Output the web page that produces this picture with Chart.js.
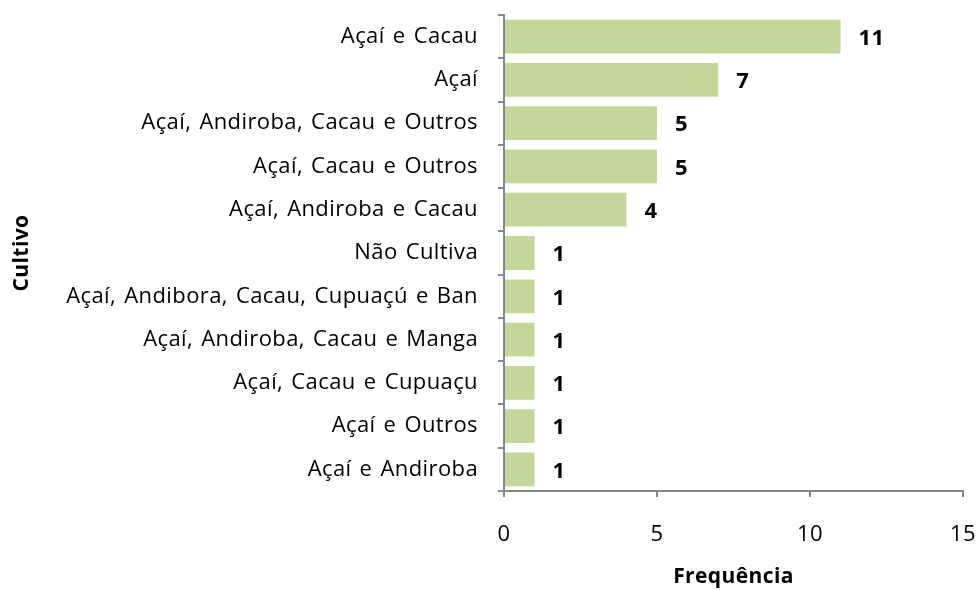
<!DOCTYPE html>
<html>
<head>
<meta charset="utf-8">
<script src="https://cdn.jsdelivr.net/npm/chart.js@4"></script>
<style>
  html, body { margin: 0; padding: 0; background: #fff; }
  #wrap { width: 978px; height: 590px; }
</style>
</head>
<body>
<div id="wrap"><canvas id="chart" width="978" height="590"></canvas></div>
<script>
"use strict";

const cultivos = [
  "Açaí e Cacau",
  "Açaí",
  "Açaí, Andiroba, Cacau e Outros",
  "Açaí, Cacau e Outros",
  "Açaí, Andiroba e Cacau",
  "Não Cultiva",
  "Açaí, Andibora, Cacau, Cupuaçú e Ban",
  "Açaí, Andiroba, Cacau e Manga",
  "Açaí, Cacau e Cupuaçu",
  "Açaí e Outros",
  "Açaí e Andiroba",
];
const frequencias = [11, 7, 5, 5, 4, 1, 1, 1, 1, 1, 1];
const xTicks = [0, 5, 10, 15];

const fontFamily = "'Open Sans', Lato, sans-serif";
const axisGray = "#868686";

// slightly looser text, like the original
const textSpacing = {
  id: "textSpacing",
  beforeLayout(chart) {
    chart.ctx.wordSpacing = "2px";
    chart.ctx.letterSpacing = "0.4px";
  },
  beforeDraw(chart) {
    chart.ctx.wordSpacing = "2px";
    chart.ctx.letterSpacing = "0.4px";
  },
};

// bold value next to each bar
const valueLabels = {
  id: "valueLabels",
  afterDatasetsDraw(chart) {
    const ctx = chart.ctx;
    const meta = chart.getDatasetMeta(0);
    ctx.save();
    ctx.font = "bold 22px " + fontFamily;
    ctx.fillStyle = "#000";
    ctx.textAlign = "left";
    ctx.textBaseline = "middle";
    meta.data.forEach((bar, i) => {
      ctx.fillText(String(frequencias[i]), bar.x + 18, bar.y + 2);
    });
    ctx.restore();
  },
};

new Chart(document.getElementById("chart"), {
  type: "bar",
  data: {
    labels: cultivos,
    datasets: [
      {
        data: frequencias,
        backgroundColor: "#c4d79b",
        borderWidth: 0,
        barPercentage: 0.78,
        categoryPercentage: 1,
      },
    ],
  },
  options: {
    indexAxis: "y",
    responsive: false,
    animation: false,
    layout: { padding: { top: 15, right: 15, bottom: 0, left: 0 } },
    plugins: {
      legend: { display: false },
      tooltip: { enabled: false },
    },
    scales: {
      x: {
        min: 0,
        max: 15,
        afterBuildTicks(scale) {
          scale.ticks = xTicks.map((v) => ({ value: v }));
        },
        afterFit(scale) {
          scale.height = 99;
          scale.paddingLeft = 0;
          scale.paddingRight = 0;
        },
        border: { color: axisGray, width: 2 },
        grid: {
          drawOnChartArea: false,
          color: axisGray,
          lineWidth: 2,
          tickLength: 6,
        },
        ticks: {
          color: "#000",
          padding: 25,
          font: { family: fontFamily, size: 22 },
        },
        title: {
          display: true,
          text: "Frequência",
          color: "#000",
          font: { family: fontFamily, size: 21, weight: "bold" },
          padding: { top: 0, bottom: 0 },
        },
      },
      y: {
        afterFit(scale) {
          scale.width = 504;
          scale.paddingTop = 0;
          scale.paddingBottom = 0;
        },
        border: { color: axisGray, width: 2 },
        grid: {
          drawOnChartArea: false,
          color: axisGray,
          lineWidth: 2,
          tickLength: 6,
        },
        ticks: {
          color: "#000",
          padding: 20,
          autoSkip: false,
          font: { family: fontFamily, size: 22 },
        },
        title: {
          display: true,
          text: "Cultivo",
          color: "#000",
          font: { family: fontFamily, size: 21, weight: "bold" },
          padding: { top: 9, bottom: 0 },
        },
      },
    },
  },
  plugins: [textSpacing, valueLabels],
});
</script>
</body>
</html>
